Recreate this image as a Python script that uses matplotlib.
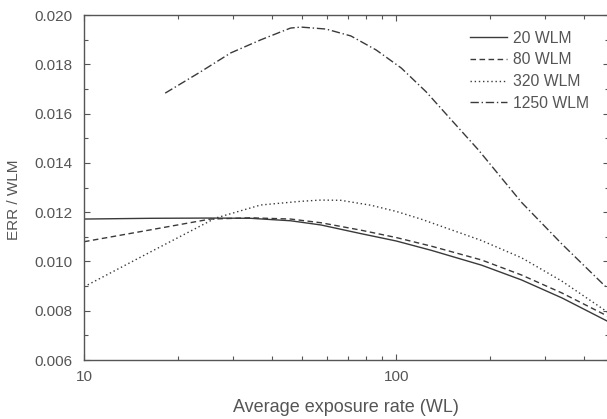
import matplotlib
matplotlib.use("Agg")
import matplotlib.pyplot as plt
from matplotlib.ticker import MultipleLocator, FixedLocator, NullFormatter

plt.rcParams["font.family"] = ["Liberation Sans", "DejaVu Sans"]

# values
x_20 = [10, 16.3, 25.4, 34.2, 45.9, 57.4, 77, 100, 129.6, 187.6, 252, 339.6, 481]
y_20 = [0.01172, 0.01175, 0.01176, 0.01175, 0.01165, 0.01148, 0.01113,
        0.01083, 0.01045, 0.00985, 0.00925, 0.00852, 0.00754]

x_80 = [10, 16.3, 25.4, 34.2, 45.9, 57.4, 77, 100, 129.6, 187.6, 252, 339.6, 481]
y_80 = [0.0108, 0.01128, 0.01172, 0.01177, 0.01172, 0.01157, 0.01127,
        0.01097, 0.01062, 0.01006, 0.00945, 0.00872, 0.00775]

x_320 = [10, 16.3, 26.4, 36.8, 49.5, 57.4, 66.5, 83, 100, 120, 187.6, 252, 339.6, 481]
y_320 = [0.00897, 0.01038, 0.01176, 0.01229, 0.01244, 0.01249, 0.01248,
         0.01228, 0.01203, 0.01172, 0.01085, 0.01015, 0.0092, 0.0079]

x_1250 = [18.2, 23.6, 29.5, 36.8, 42.6, 45.9, 49.5, 59.6, 71.6, 86.3,
          103.8, 124.8, 150.3, 183.6, 252, 340, 481]
y_1250 = [0.01683, 0.01769, 0.01846, 0.01899, 0.01931, 0.01947, 0.01951,
          0.01943, 0.01915, 0.01858, 0.01785, 0.01688, 0.01574, 0.01452,
          0.0124, 0.0107, 0.00884]

labels = ["20 WLM", "80 WLM", "320 WLM", "1250 WLM"]
x_ticks = [10, 100]
x_tick_labels = ["10", "100"]
y_ticks = [0.006, 0.008, 0.010, 0.012, 0.014, 0.016, 0.018, 0.020]

line_col = "#3a3a3a"
text_col = "#555555"

fig = plt.figure(figsize=(6.07, 4.19), dpi=100)
ax = fig.add_axes([0.1384, 0.1408, 1.003 - 0.1384, 0.9642 - 0.1408])

ax.plot(x_20, y_20, color=line_col, lw=1.0, ls="-", label=labels[0])
ax.plot(x_80, y_80, color=line_col, lw=1.0, ls=(0, (4, 2.5)), label=labels[1])
ax.plot(x_320, y_320, color=line_col, lw=1.0, ls=(0, (1, 2)), label=labels[2])
ax.plot(x_1250, y_1250, color=line_col, lw=1.0, ls=(0, (6, 2, 1, 2)), label=labels[3])

ax.set_xscale("log")
ax.set_xlim(10, 480)
ax.set_ylim(0.006, 0.020)
ax.xaxis.set_major_locator(FixedLocator(x_ticks))
ax.set_xticklabels(x_tick_labels)
ax.xaxis.set_minor_formatter(NullFormatter())
ax.set_yticks(y_ticks)
ax.set_yticklabels([f"{v:.3f}" for v in y_ticks])
ax.yaxis.set_minor_locator(MultipleLocator(0.001))

ax.tick_params(which="both", direction="in", top=True, right=True,
               colors=text_col, labelsize=11, width=0.8)
ax.tick_params(which="major", length=4)
ax.tick_params(which="minor", length=3)
ax.tick_params(axis="x", pad=7)
ax.tick_params(axis="y", pad=8)
for sp in ax.spines.values():
    sp.set_color("#555555")
    sp.set_linewidth(1.0)

ax.set_xlabel("Average exposure rate (WL)", fontsize=13, color=text_col, labelpad=11)
ax.set_ylabel("ERR / WLM", fontsize=11, color=text_col)
ax.yaxis.set_label_coords(-0.12, 0.464)

leg = ax.legend(loc="upper right", bbox_to_anchor=(0.99, 0.995), frameon=False,
                fontsize=11.3, handlelength=2.4, handletextpad=0.4, labelspacing=0.42)
for t in leg.get_texts():
    t.set_color(text_col)

fig.savefig("out.png", dpi=100)
